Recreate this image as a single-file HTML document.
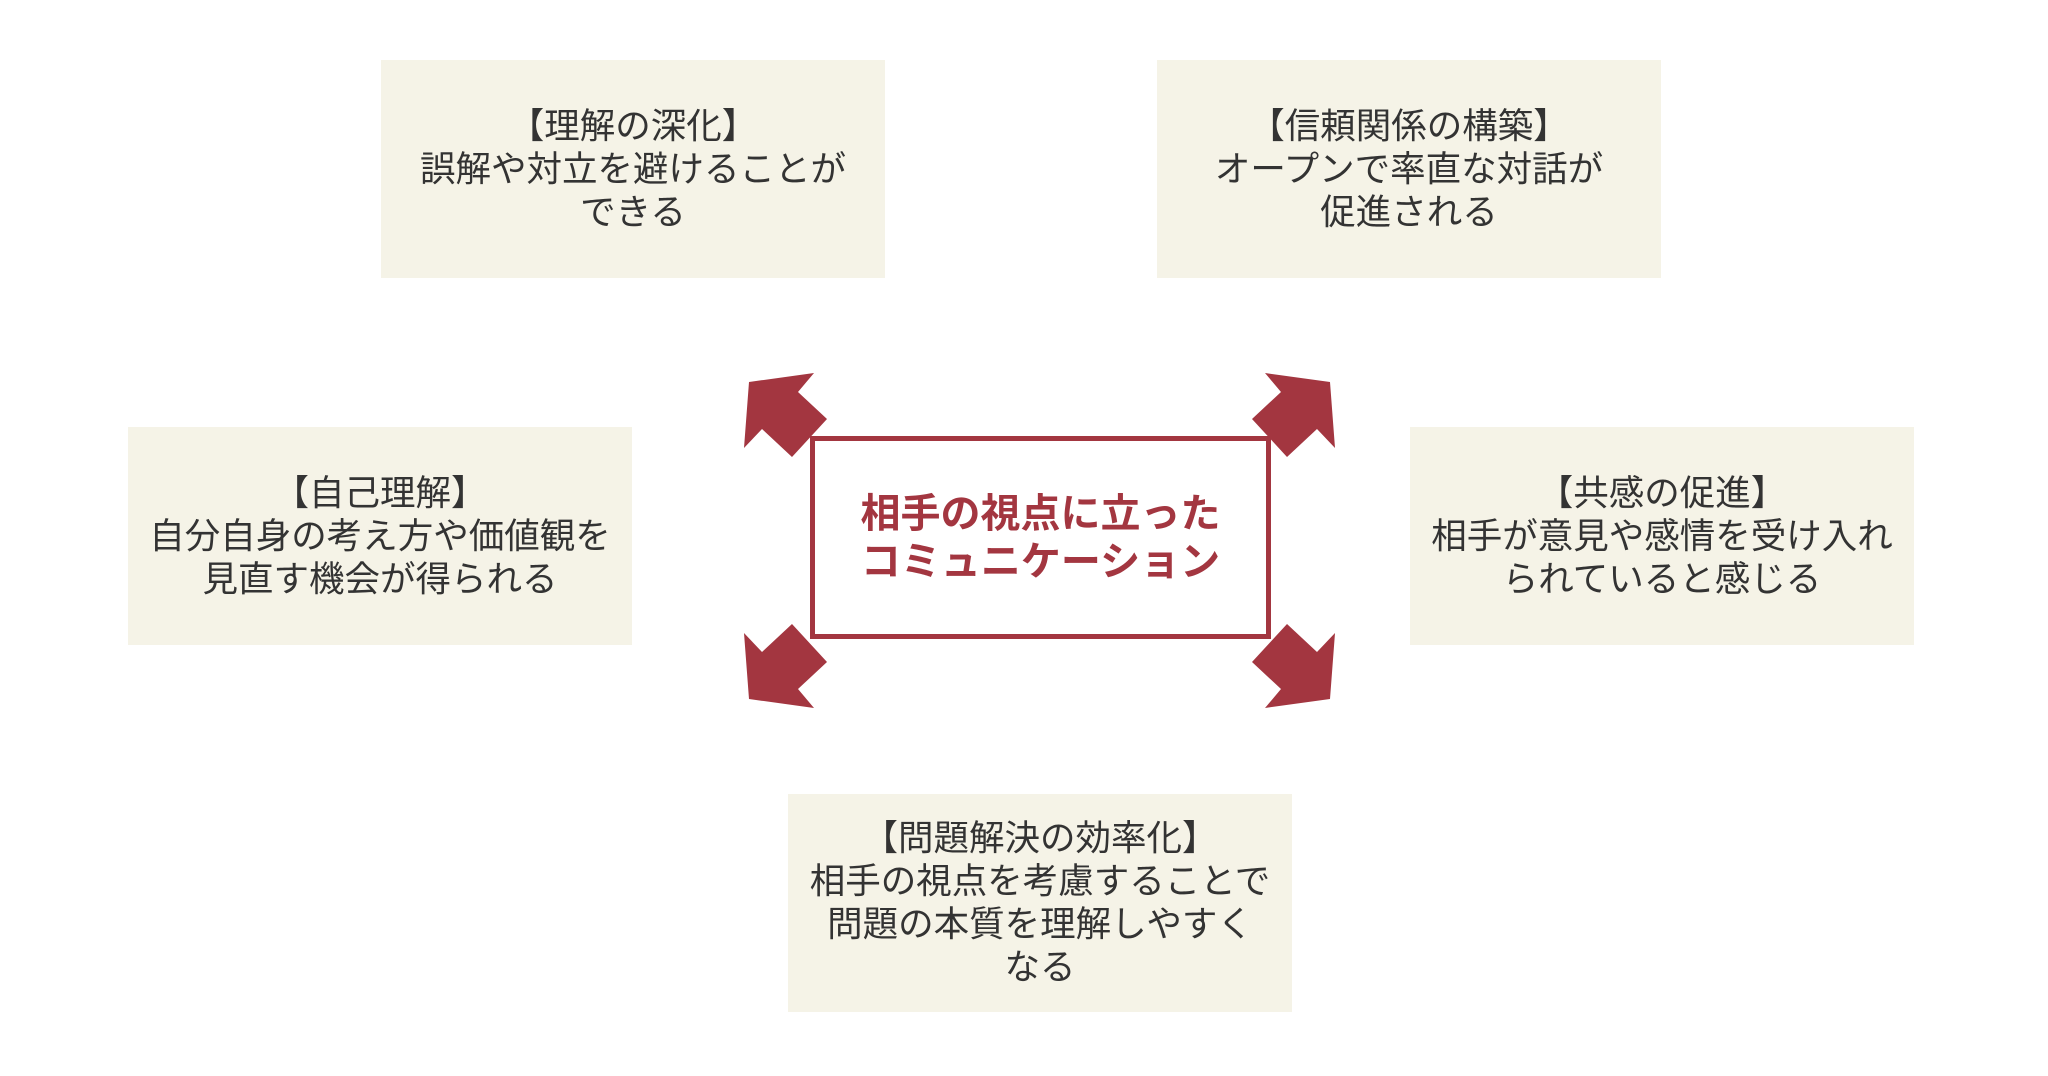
<!DOCTYPE html>
<html><head><meta charset="utf-8"><style>
body{margin:0;width:2048px;height:1076px;background:#fff;position:relative;overflow:hidden;font-family:"Liberation Sans","Noto Sans CJK JP",sans-serif;}
.b{position:absolute;width:504px;height:218px;background:#f5f3e7;display:flex;align-items:center;justify-content:center;text-align:center;color:#333;font-size:35.5px;line-height:43px;}
.c{position:absolute;left:810px;top:436px;width:451px;height:193px;border:5px solid #a33640;display:flex;align-items:center;justify-content:center;text-align:center;color:#a33640;font-weight:bold;font-size:40px;line-height:48px;}
svg{position:absolute;left:0;top:0}
</style></head><body>
<div class="b" style="left:381px;top:60px">【理解の深化】<br>誤解や対立を避けることが<br>できる</div>
<div class="b" style="left:1157px;top:60px">【信頼関係の構築】<br>オープンで率直な対話が<br>促進される</div>
<div class="b" style="left:128px;top:427px">【自己理解】<br>自分自身の考え方や価値観を<br>見直す機会が得られる</div>
<div class="b" style="left:1410px;top:427px">【共感の促進】<br>相手が意見や感情を受け入れ<br>られていると感じる</div>
<div class="b" style="left:788px;top:794px;">【問題解決の効率化】<br>相手の視点を考慮することで<br>問題の本質を理解しやすく<br>なる</div>
<div class="c">相手の視点に立った<br>コミュニケーション</div>
<svg width="2048" height="1076">
<g fill="#a33640">
<polygon points="814,373 798,392 827,419 792,457 762,429 744,448 749,382"/>
<polygon points="1265,373 1281,392 1252,419 1287,457 1317,429 1335,448 1330,382"/>
<polygon points="814,708 798,689 827,662 792,624 762,652 744,633 749,699"/>
<polygon points="1265,708 1281,689 1252,662 1287,624 1317,652 1335,633 1330,699"/>
</g></svg>
</body></html>
